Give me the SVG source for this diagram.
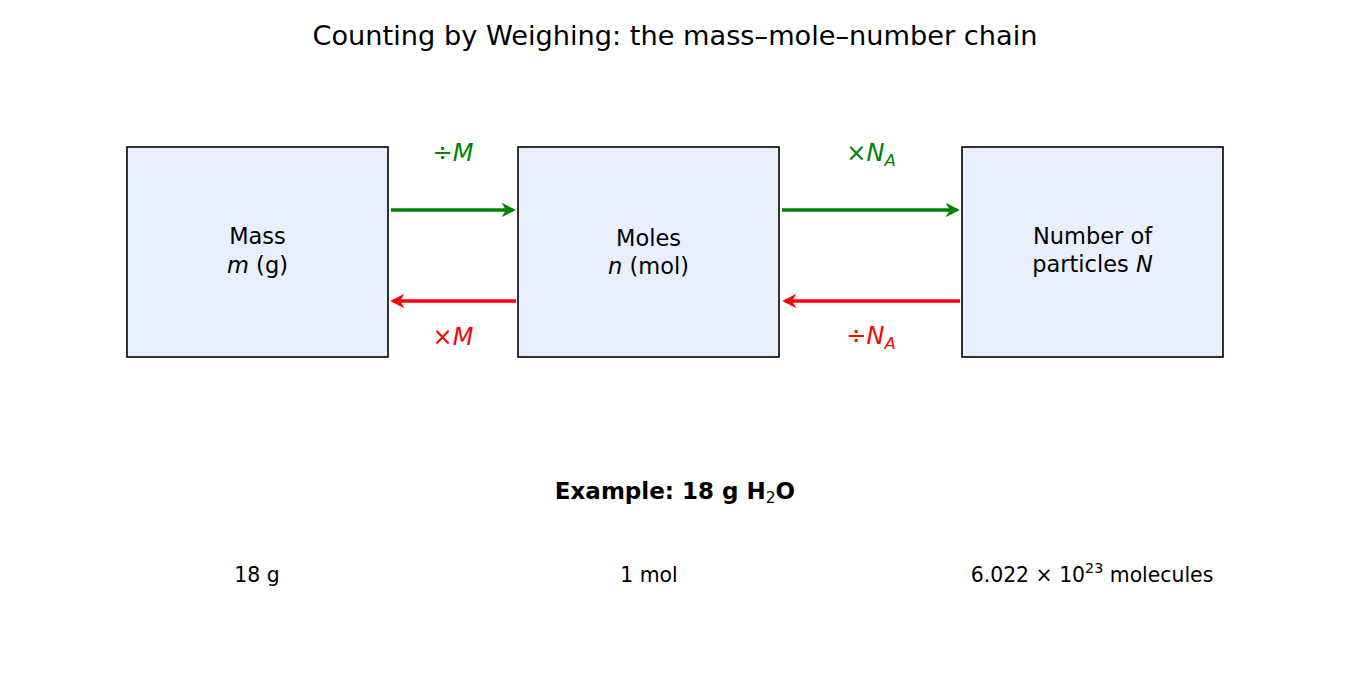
<svg xmlns="http://www.w3.org/2000/svg" width="1350" height="675" viewBox="0 0 1350 675">
<style>
text{font-family:"DejaVu Sans",sans-serif;fill:#000}
.box{fill:#e8f0fe;stroke:#000;stroke-width:1.6}
.lbl{font-size:22.5px;text-anchor:middle}
.op{font-size:24px;text-anchor:middle}
.g{fill:#008000}
.r{fill:#ff0000}
.ex{font-size:20.4px;text-anchor:middle}
</style>
<defs>
<marker id="ag" viewBox="0 0 10 10" refX="8" refY="5" markerWidth="4.3" markerHeight="4.3" orient="auto"><path d="M0,0 L10,5 L0,10 L3,5 z" fill="#008000"/></marker>
<marker id="ar" viewBox="0 0 10 10" refX="8" refY="5" markerWidth="4.3" markerHeight="4.3" orient="auto"><path d="M0,0 L10,5 L0,10 L3,5 z" fill="#ff0000"/></marker>
</defs>
<rect width="1350" height="675" fill="#fff"/>
<text x="675" y="45" font-size="27.2" text-anchor="middle">Counting by Weighing: the mass–mole–number chain</text>
<g id="mass"><rect class="box" x="127" y="147" width="261" height="210"/>
<text class="lbl" x="257.5" y="244">Mass</text>
<text class="lbl" x="257.5" y="273"><tspan font-style="italic">m</tspan> (g)</text></g>
<g id="moles"><rect class="box" x="518" y="147" width="261" height="210"/>
<text class="lbl" x="648.5" y="246">Moles</text>
<text class="lbl" x="648.5" y="274"><tspan font-style="italic">n</tspan> (mol)</text></g>
<g id="number"><rect class="box" x="962" y="147" width="261" height="210"/>
<text class="lbl" x="1092.5" y="244">Number of</text>
<text class="lbl" x="1092.5" y="272">particles <tspan font-style="italic">N</tspan></text></g>
<g id="connectors" stroke-width="3.3" fill="none">
<line x1="391" y1="210" x2="513" y2="210" stroke="#008000" marker-end="url(#ag)"/>
<line x1="516" y1="301" x2="393" y2="301" stroke="#ff0000" marker-end="url(#ar)"/>
<line x1="782" y1="210" x2="957" y2="210" stroke="#008000" marker-end="url(#ag)"/>
<line x1="960" y1="301" x2="785" y2="301" stroke="#ff0000" marker-end="url(#ar)"/>
</g>
<text class="op g" x="453" y="161">÷<tspan font-style="italic">M</tspan></text>
<text class="op r" x="453" y="345">×<tspan font-style="italic">M</tspan></text>
<text class="op g" x="871" y="161">×<tspan font-style="italic">N</tspan><tspan font-style="italic" font-size="16.5" dy="5">A</tspan></text>
<text class="op r" x="871" y="344">÷<tspan font-style="italic">N</tspan><tspan font-style="italic" font-size="16.5" dy="5">A</tspan></text>
<text x="675" y="499" font-size="23" font-weight="bold" text-anchor="middle">Example: 18 g H<tspan font-size="15.5" font-weight="normal" dy="4">2</tspan><tspan dy="-4">O</tspan></text>
<text class="ex" x="257" y="582">18 g</text>
<text class="ex" x="649" y="582">1 mol</text>
<text class="ex" x="1092" y="582">6.022 × 10<tspan font-size="14.3" dy="-9">23</tspan><tspan dy="9"> molecules</tspan></text>
</svg>
